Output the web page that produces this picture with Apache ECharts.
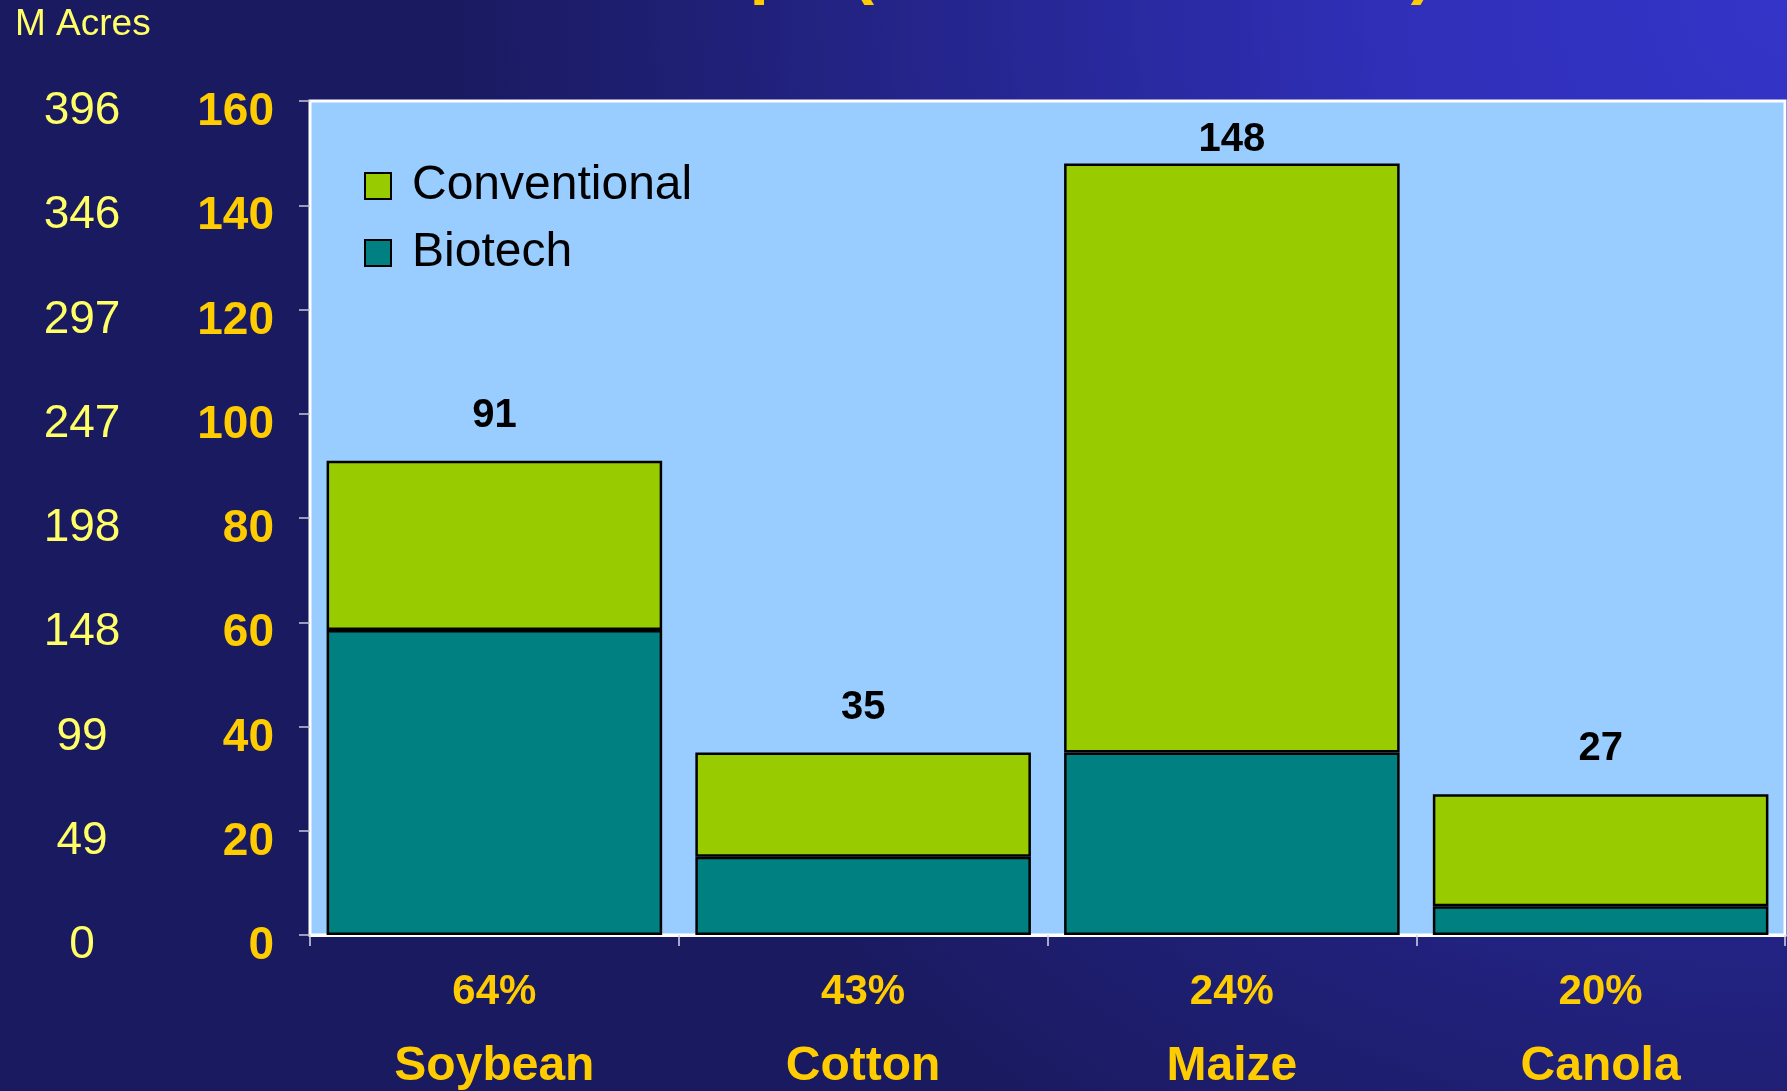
<!DOCTYPE html>
<html>
<head>
<meta charset="utf-8">
<script src="https://cdn.jsdelivr.net/npm/echarts@6/dist/echarts.min.js"></script>
<style>
html,body{margin:0;padding:0;background:#1a1a60;}
#chart{width:1787px;height:1091px;}
</style>
</head>
<body>
<div id="chart"></div>
<script>
var categories = ['Soybean', 'Cotton', 'Maize', 'Canola'];
var adoptionPct = ['64%', '43%', '24%', '20%'];
var biotech = [58.5, 15, 35, 5.5];
var conventional = [32.5, 20, 113, 21.5];
var totals = [91, 35, 148, 27];
var hectareTicks = [0, 20, 40, 60, 80, 100, 120, 140, 160];
var acreLabels = ['0', '49', '99', '148', '198', '247', '297', '346', '396'];

var FONT = "'Liberation Sans', Arial, sans-serif";
var chart = echarts.init(document.getElementById('chart'));

var conventionalData = conventional.map(function (v, i) {
  return {
    value: v,
    label: { distance: totals[i] > 140 ? 4 : 25 }
  };
});

chart.setOption({
  backgroundColor: {
    type: 'radial', x: 1787, y: 0, r: 1350, global: true,
    colorStops: [
      { offset: 0, color: '#3434c8' },
      { offset: 0.3, color: '#2f2fb8' },
      { offset: 0.82, color: '#1f1f74' },
      { offset: 1, color: '#1a1a60' }
    ]
  },
  animation: false,
  title: [
    {
      text: 'Biotech Crops (Million Hectares)',
      left: 'center', top: -69,
      textStyle: { color: '#ffcc00', fontSize: 70, fontWeight: 'bold', fontFamily: FONT }
    },
    {
      text: 'M Acres',
      left: 10, top: 1,
      textStyle: { color: '#ffff66', fontSize: 37, fontWeight: 'normal', fontFamily: FONT }
    }
  ],
  legend: {
    data: ['Conventional', 'Biotech'],
    orient: 'vertical',
    left: 359, top: 157,
    itemWidth: 26, itemHeight: 26,
    itemGap: 19,
    icon: 'rect',
    textStyle: { color: '#000', fontSize: 48, fontFamily: FONT, padding: [0, 0, 0, 16] }
  },
  grid: {
    left: 310, right: 2, top: 101, bottom: 154,
    show: true, backgroundColor: '#99ccff', borderColor: '#ffffff', borderWidth: 3
  },
  xAxis: {
    type: 'category',
    data: categories,
    axisLine: { show: true, lineStyle: { color: '#ffffff', width: 3 } },
    axisTick: { show: true, length: 11, lineStyle: { color: '#d8d8e8', width: 1.5 } },
    axisLabel: {
      margin: 27,
      formatter: function (v, i) { return '{p|' + adoptionPct[i] + '}\n{n|' + v + '}'; },
      rich: {
        p: { color: '#ffcc00', fontSize: 42, fontWeight: 'bold', fontFamily: FONT, lineHeight: 60 },
        n: { color: '#ffcc00', fontSize: 48, fontWeight: 'bold', fontFamily: FONT, lineHeight: 90 }
      }
    }
  },
  yAxis: [
    {
      type: 'value', min: 0, max: 160, interval: 20, position: 'left',
      axisLine: { show: false },
      axisTick: { show: true, length: 11, lineStyle: { color: '#c8c8d8', width: 1.5 } },
      splitLine: { show: false },
      axisLabel: {
        color: '#ffcc00', fontSize: 46, fontWeight: 'bold', fontFamily: FONT,
        margin: 36, verticalAlign: 'top', lineHeight: 23,
        formatter: function (v) { return String(v); }
      }
    },
    {
      type: 'value', min: 0, max: 160, interval: 20, position: 'left', offset: 0,
      axisLine: { show: false }, axisTick: { show: false }, splitLine: { show: false },
      axisLabel: {
        color: '#ffff66', fontSize: 46, fontWeight: 'normal', fontFamily: FONT,
        align: 'center', margin: 228, verticalAlign: 'top', lineHeight: 21,
        formatter: function (v) { return acreLabels[hectareTicks.indexOf(v)]; }
      }
    }
  ],
  series: [
    {
      name: 'Biotech', type: 'bar', stack: 'total', barCategoryGap: '9%',
      data: biotech,
      itemStyle: { color: '#008080', borderColor: '#000', borderWidth: 2.5 }
    },
    {
      name: 'Conventional', type: 'bar', stack: 'total', barCategoryGap: '9%',
      data: conventionalData,
      itemStyle: { color: '#99cc00', borderColor: '#000', borderWidth: 2.5 },
      label: {
        show: true, position: 'top', distance: 25,
        color: '#000', fontSize: 40, fontWeight: 'bold', fontFamily: FONT,
        formatter: function (p) { return String(totals[p.dataIndex]); }
      }
    }
  ]
});
</script>
</body>
</html>
